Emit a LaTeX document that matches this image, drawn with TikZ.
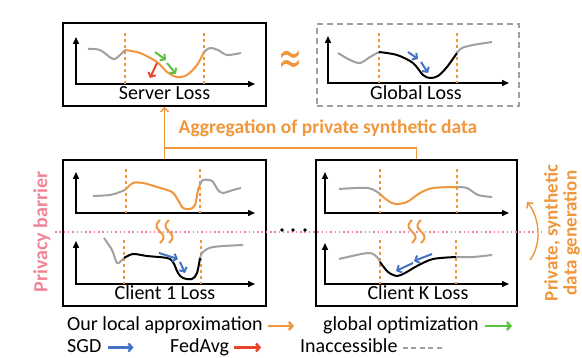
\documentclass[tikz,border=0pt]{standalone}
\usepackage{fontspec}
\setmainfont{Carlito}
\newfontfamily\symfont{DejaVu Sans}
\usepackage{tikz}
\usetikzlibrary{arrows.meta,calc}
\definecolor{accent}{HTML}{F0963C}
\definecolor{optgreen}{HTML}{5CC23C}
\definecolor{sgdblue}{HTML}{4472C4}
\definecolor{avgred}{HTML}{E8452C}
\definecolor{hidden}{HTML}{A0A0A0}
\definecolor{barrier}{HTML}{F08595}
\tikzset{
  lossbox/.style={draw,line width=1.6pt,inner sep=0pt},
  boxtitle/.style={anchor=base,inner sep=0pt,font=\fontsize{20}{24}\selectfont},
  legtext/.style={anchor=base west,inner sep=0pt,font=\fontsize{20}{24}\selectfont},
  axes/.style={line width=1.5pt,{Triangle[length=7pt,width=6pt]}-{Triangle[length=7pt,width=6pt]}},
  cut/.style={accent,line width=1.2pt,dash pattern=on 3pt off 3pt},
  hiddencurve/.style={hidden,line width=2pt},
  localcurve/.style={accent,line width=2pt},
  truecurve/.style={black,line width=2pt},
  stepdraw/.style={line width=2pt,-{Straight Barb[length=3.5pt,width=8pt]}},
  optstep/.style={stepdraw,optgreen},
  sgdstep/.style={stepdraw,sgdblue},
  avgstep/.style={stepdraw,avgred},
  localstep/.style={stepdraw,accent},
  aggline/.style={accent,line width=1.4pt},
  barrierline/.style={barrier,line width=1.3pt,dash pattern=on 1.5pt off 2.8pt},
}

\begin{document}
\begin{tikzpicture}[x=1pt,y=-1pt]
  \useasboundingbox (0,0) rectangle (582,358);
  % loss boxes
  \node[lossbox,minimum width=203pt,minimum height=83pt] (server) at (164.5,64.5) {};
  \node[draw=hidden,line width=1.6pt,dash pattern=on 6pt off 4pt,minimum width=202pt,minimum height=82pt] (global) at (418,65) {};
  \node[lossbox,minimum width=203pt,minimum height=146pt] (client1) at (164.5,233) {};
  \node[lossbox,minimum width=201pt,minimum height=146pt] (clientK) at (416.5,233) {};
  \node[boxtitle] (serverTitle) at (164.5,100) {Server Loss};
  \node[boxtitle] (globalTitle) at (416,100) {Global Loss};
  \node[boxtitle] (client1Title) at (165,300) {Client 1 Loss};
  \node[boxtitle] (clientKTitle) at (418,300) {Client K Loss};
  % axes and cut lines
  \foreach \ox/\oy/\top/\rt in {76/84/37/255,328/83/36/509,76/213/172/255,76/284/241/255,325/213/172/509,325/284/243/509}
    \draw[axes] (\ox,\top) -- (\ox,\oy) -- (\rt,\oy);
  \foreach \cx/\ya/\yb in {125/33/84,204/33/84,379/33/83,457/33/83,126/169/213,200/169/213,124/240/284,201/240/284,380/169/213,457/169/213,380/240/284,456/240/284}
    \draw[cut] (\cx,\ya) -- (\cx,\yb);
  % server
  \draw[hiddencurve] plot[smooth] coordinates {(88,49) (100,50) (113,59) (120,55) (125,50)};
  \draw[localcurve] plot[smooth] coordinates {(125,50) (140,53) (157,62) (167,72) (177,77) (187,75) (197,65) (204,52)};
  \draw[hiddencurve] plot[smooth] coordinates {(204,52) (210,48) (218,50) (227,55) (241,53)};
  \draw[optstep] (155,52) -- (166,60);
  \draw[optstep] (167,63) -- (176,74);
  \draw[avgstep] (157,63) -- (150,78);
  % global
  \draw[hiddencurve] plot[smooth] coordinates {(338,53) (350,60) (360,63) (370,57) (379,52)};
  \draw[truecurve] plot[smooth] coordinates {(379,52) (397,55) (413,63) (423,75) (430,78) (438,76) (447,67) (457,53)};
  \draw[hiddencurve] plot[smooth] coordinates {(457,53) (462,48) (473,45) (492,42)};
  \draw[sgdstep] (408,52) -- (418,59);
  \draw[sgdstep] (421,62) -- (428,73);
  % client 1
  \draw[hiddencurve] plot[smooth] coordinates {(93,196) (110,195) (120,192) (125,190)};
  \draw[localcurve] plot[smooth] coordinates {(125,190) (133,183) (143,183) (157,187) (172,192) (178,200) (183,208) (190,209) (195,205) (198,190) (200,185)};
  \draw[hiddencurve] plot[smooth] coordinates {(200,185) (203,180) (212,181) (218,190) (223,193) (233,190) (241,188)};
  \draw[hiddencurve] plot[smooth] coordinates {(104,238) (112,250) (117,263) (122,260) (124,258)};
  \draw[truecurve] plot[smooth] coordinates {(124,258) (133,254) (147,256) (167,258) (173,262) (178,273) (183,278) (192,279) (197,273) (200,258)};
  \draw[hiddencurve] plot[smooth] coordinates {(200,258) (203,252) (213,247) (243,245)};
  \draw[sgdstep] (159,253) -- (178,259);
  \draw[sgdstep] (180,262) -- (185,273);
  % client K
  \draw[hiddencurve] plot[smooth] coordinates {(339,189) (368,188) (380,194)};
  \draw[localcurve] plot[smooth] coordinates {(380,194) (387,200) (395,204) (407,202) (420,193) (433,188) (457,187)};
  \draw[hiddencurve] plot[smooth] coordinates {(457,187) (467,188) (478,195) (492,197)};
  \draw[hiddencurve] plot[smooth] coordinates {(339,259) (368,253) (377,257) (380,262)};
  \draw[truecurve] plot[smooth] coordinates {(380,262) (388,272) (397,276) (405,273) (417,266) (433,259) (456,257)};
  \draw[hiddencurve] plot[smooth] coordinates {(456,257) (473,257) (492,255)};
  \draw[sgdstep] (432,254) -- (414,261);
  \draw[sgdstep] (413,263) -- (396,271);
  % local approximation marks
  \foreach \sx in {160,169,412,421}
    \draw[localcurve] plot[domain=0:360,samples=30] ({\sx-3.5*sin(\x)},{220+\x/360*23});
  \node[text=accent,inner sep=0pt,font=\symfont\fontsize{30}{30}\selectfont] (approx) at (290,63) {\scalebox{0.95}[1.6]{≈}};
  % aggregation
  \coordinate (aggJoin) at (164.5,148);
  \draw[aggline,-{Straight Barb[length=4pt,width=8pt]}] (client1.north) -- (server.south);
  \draw[aggline] (aggJoin) -| (clientK.north);
  \node[text=accent,inner sep=0pt,font=\bfseries\fontsize{19.5}{24}\selectfont] (aggText) at (328,128) {Aggregation of private synthetic data};
  % privacy barrier
  \coordinate (barrierW) at (55,232);
  \coordinate (barrierE) at (545,232);
  \draw[barrierline] (barrierW) -- (barrierE);
  \foreach \dx in {282,293,305}
    \fill (\dx,230) circle (1.8pt);
  \node[rotate=90,text=barrier,inner sep=0pt,font=\bfseries\fontsize{20}{24}\selectfont] (barrierText) at (42,232) {Privacy barrier};
  \node[rotate=90,text=accent,inner sep=0pt,align=center,font=\bfseries\fontsize{19}{19}\selectfont] (genText) at (562,233) {Private, synthetic\\data generation};
  \coordinate (genStart) at (530,260);
  \coordinate (genEnd) at (527,202);
  \draw[aggline,-{Straight Barb[length=4pt,width=8pt]}] (genStart) .. controls (542,244) and (540,218) .. (genEnd);
  % legend
  \node[legtext] (legLocal) at (67,331) {Our local approximation};
  \node[legtext] (legGlobal) at (323,331) {global optimization};
  \node[legtext] (legSgd) at (67,352.5) {SGD};
  \node[legtext] (legAvg) at (170,352.5) {FedAvg};
  \node[legtext] (legHidden) at (300,352.5) {Inaccessible};
  \draw[localstep,line width=2.4pt] ([shift={(5pt,5pt)}]legLocal.base east) -- ([shift={(31pt,5pt)}]legLocal.base east);
  \draw[optstep,line width=2.4pt] ([shift={(6pt,5pt)}]legGlobal.base east) -- ([shift={(33pt,5pt)}]legGlobal.base east);
  \draw[sgdstep,line width=2.4pt] ([shift={(6pt,5pt)}]legSgd.base east) -- ([shift={(32pt,5pt)}]legSgd.base east);
  \draw[avgstep,line width=2.4pt] ([shift={(5pt,5pt)}]legAvg.base east) -- ([shift={(32pt,5pt)}]legAvg.base east);
  \draw[hidden,line width=2pt,dash pattern=on 5pt off 3.5pt] ([shift={(5pt,4pt)}]legHidden.base east) -- ([shift={(45pt,4pt)}]legHidden.base east);
\end{tikzpicture}
\end{document}
